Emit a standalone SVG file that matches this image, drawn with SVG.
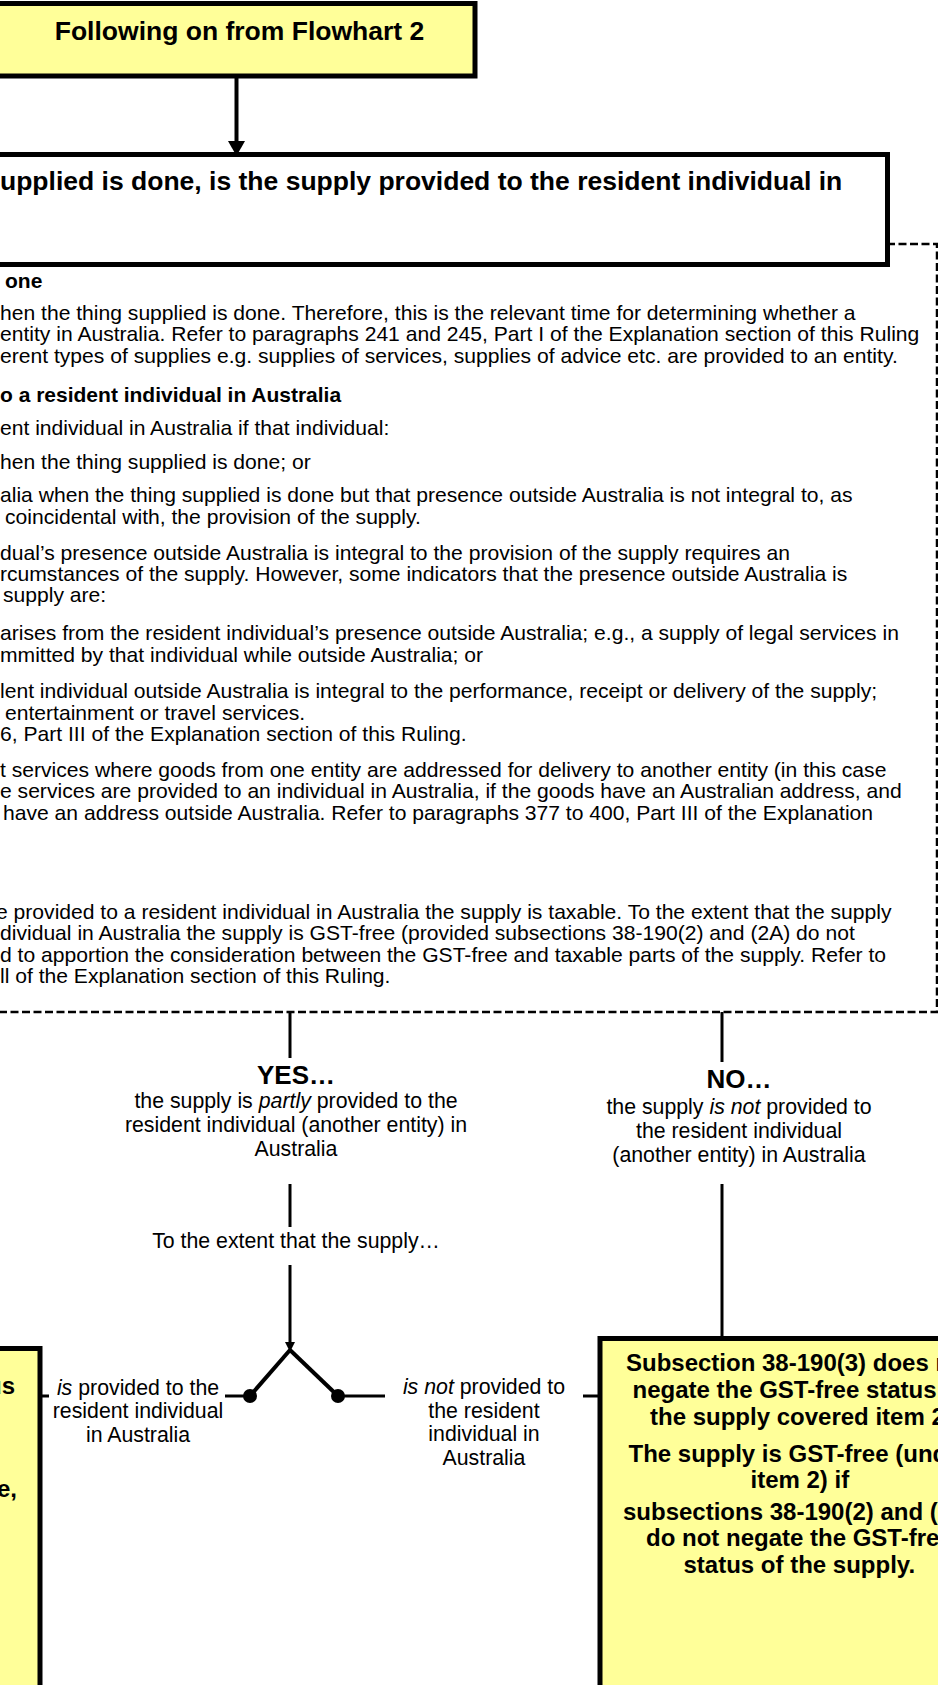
<svg xmlns="http://www.w3.org/2000/svg" width="938" height="1685" viewBox="0 0 938 1685">
<defs>
<style>
text{font-family:"Liberation Sans",Arial,sans-serif;fill:#000}
.h1{font-size:26.5px;font-weight:bold}
.body{font-size:21.1px}
.bh{font-size:21px;font-weight:bold}
.lab{font-size:21.3px}
.yn{font-size:26px;font-weight:bold}
.bx{font-size:24px;font-weight:bold}
.box{fill:#FFFF99;stroke:#000;stroke-width:5}
.qbox{fill:#fff;stroke:#000;stroke-width:5}
.dash{fill:none;stroke:#000;stroke-width:2.5;stroke-dasharray:8 3.5}
.ln{fill:none;stroke:#000;stroke-width:3}
.c{text-anchor:middle}
</style>
</defs>

<g id="info">
<rect class="dash" x="-10" y="244" width="947" height="768"/>
<text class="bh" x="5" y="287.5">one</text>
<text class="body" x="0" y="319.5">hen the thing supplied is done. Therefore, this is the relevant time for determining whether a</text>
<text class="body" x="0" y="341">entity in Australia. Refer to paragraphs 241 and 245, Part I of the Explanation section of this Ruling</text>
<text class="body" x="0" y="362.5">erent types of supplies e.g. supplies of services, supplies of advice etc. are provided to an entity.</text>
<text class="bh" x="0" y="401.5">o a resident individual in Australia</text>
<text class="body" x="0" y="434.5">ent individual in Australia if that individual:</text>
<text class="body" x="0" y="468.5">hen the thing supplied is done; or</text>
<text class="body" x="0" y="502">alia when the thing supplied is done but that presence outside Australia is not integral to, as</text>
<text class="body" x="5" y="523.5">coincidental with, the provision of the supply.</text>
<text class="body" x="0" y="559.5">dual’s presence outside Australia is integral to the provision of the supply requires an</text>
<text class="body" x="0" y="581">rcumstances of the supply. However, some indicators that the presence outside Australia is</text>
<text class="body" x="3" y="602">supply are:</text>
<text class="body" x="0" y="640">arises from the resident individual’s presence outside Australia; e.g., a supply of legal services in</text>
<text class="body" x="0" y="661.5">mmitted by that individual while outside Australia; or</text>
<text class="body" x="0" y="698">lent individual outside Australia is integral to the performance, receipt or delivery of the supply;</text>
<text class="body" x="5" y="719.5">entertainment or travel services.</text>
<text class="body" x="0" y="741">6, Part III of the Explanation section of this Ruling.</text>
<text class="body" x="0" y="776.5">t services where goods from one entity are addressed for delivery to another entity (in this case</text>
<text class="body" x="0" y="798">e services are provided to an individual in Australia, if the goods have an Australian address, and</text>
<text class="body" x="3" y="819.5">have an address outside Australia. Refer to paragraphs 377 to 400, Part III of the Explanation</text>
<text class="body" x="-4" y="918.5">e provided to a resident individual in Australia the supply is taxable. To the extent that the supply</text>
<text class="body" x="0" y="940">dividual in Australia the supply is GST-free (provided subsections 38-190(2) and (2A) do not</text>
<text class="body" x="0" y="961.5">d to apportion the consideration between the GST-free and taxable parts of the supply. Refer to</text>
<text class="body" x="0" y="983">ll of the Explanation section of this Ruling.</text>
</g>

<g id="connectors">
<line x1="236.5" y1="76" x2="236.5" y2="145" style="stroke:#000;stroke-width:4"/>
<path d="M228,141 L245,141 L236.5,156 Z" fill="#000"/>
<line class="ln" x1="290" y1="1012" x2="290" y2="1058"/>
<line class="ln" x1="722" y1="1012" x2="722" y2="1062"/>
<line class="ln" x1="290" y1="1184" x2="290" y2="1227"/>
<line class="ln" x1="722" y1="1184" x2="722" y2="1337"/>
<line class="ln" x1="290" y1="1265" x2="290" y2="1344"/>
<path d="M285,1342 L295,1342 L290,1352 Z" fill="#000"/>
<line x1="290" y1="1350" x2="250" y2="1396" style="stroke:#000;stroke-width:4"/>
<line x1="290" y1="1350" x2="338" y2="1396" style="stroke:#000;stroke-width:4"/>
<circle cx="250" cy="1396" r="7" fill="#000"/>
<circle cx="338" cy="1396" r="7" fill="#000"/>
<line class="ln" x1="225" y1="1396" x2="250" y2="1396"/>
<line class="ln" x1="338" y1="1396" x2="385" y2="1396"/>
<line class="ln" x1="583" y1="1396" x2="604" y2="1396"/>
<path d="M602,1390 L613,1396 L602,1402 Z" fill="#000"/>
<line class="ln" x1="42" y1="1396" x2="49" y2="1396"/>
</g>

<g id="node-top">
<rect class="box" x="-10" y="3.5" width="485" height="72.5"/>
<text class="h1 c" x="239.5" y="39.5">Following on from Flowhart 2</text>
</g>

<g id="node-question">
<rect class="qbox" x="-10" y="154.5" width="897.5" height="110"/>
<text class="h1" x="0" y="190">upplied is done, is the supply provided to the resident individual in</text>
</g>

<g id="label-yes">
<text class="yn c" x="296" y="1084">YES…</text>
<text class="lab c" x="296" y="1108">the supply is <tspan font-style="italic">partly</tspan> provided to the</text>
<text class="lab c" x="296" y="1132">resident individual (another entity) in</text>
<text class="lab c" x="296" y="1156">Australia</text>
</g>

<g id="label-no">
<text class="yn c" x="739" y="1088">NO…</text>
<text class="lab c" x="739" y="1114">the supply <tspan font-style="italic">is not</tspan> provided to</text>
<text class="lab c" x="739" y="1138">the resident individual</text>
<text class="lab c" x="739" y="1162">(another entity) in Australia</text>
</g>

<g id="label-extent">
<text class="lab c" x="296" y="1248">To the extent that the supply…</text>
</g>

<g id="label-is">
<text class="lab c" x="138" y="1395"><tspan font-style="italic">is</tspan> provided to the</text>
<text class="lab c" x="138" y="1418">resident individual</text>
<text class="lab c" x="138" y="1442">in Australia</text>
</g>

<g id="label-isnot">
<text class="lab c" x="484" y="1394"><tspan font-style="italic">is not</tspan> provided to</text>
<text class="lab c" x="484" y="1418">the resident</text>
<text class="lab c" x="484" y="1441">individual in</text>
<text class="lab c" x="484" y="1465">Australia</text>
</g>

<g id="node-left">
<rect class="box" x="-10" y="1348.5" width="50" height="360"/>
<text class="bx" x="-13" y="1394">us</text>
<text class="bx" x="-3" y="1497">e,</text>
</g>

<g id="node-right">
<rect class="box" x="600" y="1338.5" width="400" height="370"/>
<text class="bx" x="626" y="1371">Subsection 38-190(3) does n</text>
<text class="bx" x="632.5" y="1398">negate the GST-free status</text>
<text class="bx" x="650" y="1425">the supply covered item 2</text>
<text class="bx" x="628.5" y="1461.5">The supply is GST-free (und</text>
<text class="bx" x="750.5" y="1488">item 2) if</text>
<text class="bx" x="623" y="1519.5">subsections 38-190(2) and (</text>
<text class="bx" x="646" y="1546">do not negate the GST-fre</text>
<text class="bx" x="683.5" y="1573">status of the supply.</text>
</g>
</svg>
